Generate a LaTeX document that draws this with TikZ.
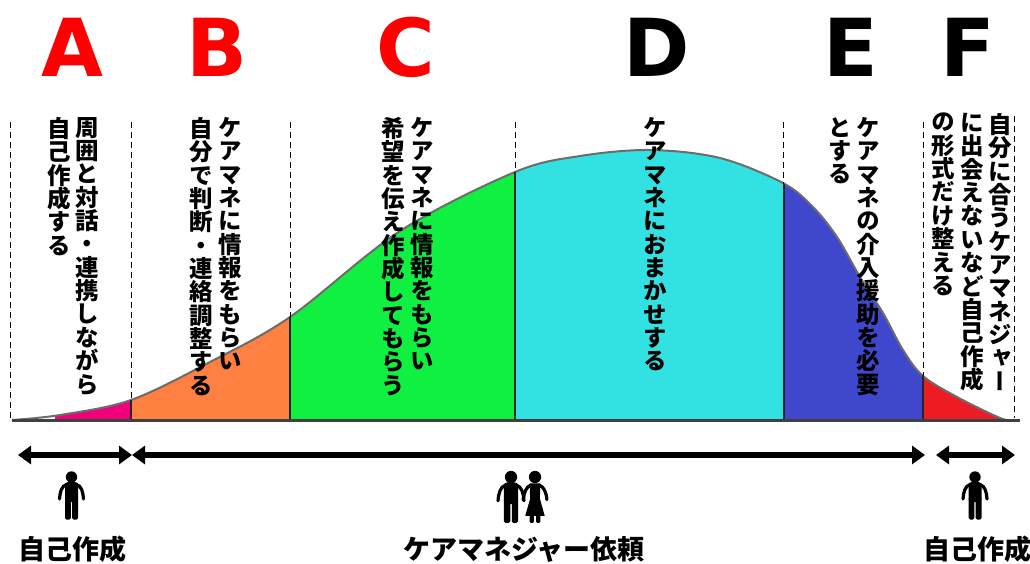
\documentclass[tikz,border=0pt]{standalone}
\usepackage{fontspec}
\setmainfont{Noto Sans CJK JP}
\newfontfamily\cjkv[RawFeature=+vert]{Noto Sans CJK JP}
\newfontfamily\latinbold{DejaVu Sans}
\usetikzlibrary{arrows.meta}
\definecolor{pinkA}{HTML}{F2007C}
\definecolor{orangeB}{HTML}{FF8040}
\definecolor{greenC}{HTML}{0FF040}
\definecolor{cyanD}{HTML}{32E2E2}
\definecolor{blueE}{HTML}{3F48CC}
\definecolor{redF}{HTML}{ED1C24}
\newcommand{\bellcurve}{plot[smooth,tension=0.55] coordinates {(12,420) (60,415) (131,400) (210,362) (290,317) (400,231) (515,172) (580,156) (650,150) (720,158) (783,183) (813,207) (837,237) (860,277) (883,313) (903,350) (923,376) (957,397) (1000,418) (1012,420)}}
\makeatletter
\newcommand{\vcol}[1]{\vbox{\baselineskip=23.35pt\lineskip=0pt\@tfor\vch:=#1\do{\hbox{\vch}}}}
\makeatother
\tikzset{
    letter/.style={inner sep=0, font=\latinbold\bfseries\fontsize{80}{80}\selectfont},
    vtext/.style={anchor=north, inner sep=0, font=\cjkv\bfseries\fontsize{23.5}{23.5}\selectfont},
    caption/.style={inner sep=0, font=\bfseries\fontsize{27}{27}\selectfont},
    divider/.style={line width=1pt, dash pattern=on 6pt off 4pt},
    span/.style={line width=6pt, {Triangle[length=13pt,width=18pt]}-{Triangle[length=13pt,width=18pt]}},
    man/.pic={
        \fill (0,0) circle (5.7);
        \fill[rounded corners=3] (-6.5,5) rectangle (6.5,25);
        \fill[rounded corners=1.5] (-6.5,20) rectangle (-0.7,42.5);
        \fill[rounded corners=1.5] (0.7,20) rectangle (6.5,42.5);
        \draw[line width=3.2pt, line cap=round] (-5,7.5) .. controls (-10,9) and (-11.5,15) .. (-12,22);
        \draw[line width=3.2pt, line cap=round] (5,7.5) .. controls (10,9) and (11.5,15) .. (12,22);
    },
    woman/.pic={
        \fill (0,0) circle (5.7);
        \fill (-5,6) -- (5,6) -- (4.5,20) -- (9,36) -- (-9,36) -- (-4.5,20) -- cycle;
        \fill[rounded corners=1.2] (-5,34) rectangle (-1,42.5);
        \fill[rounded corners=1.2] (1,34) rectangle (5,42.5);
        \draw[line width=3.2pt, line cap=round] (-4,7.5) .. controls (-8,9) and (-10,14) .. (-11,21);
        \draw[line width=3.2pt, line cap=round] (4,7.5) .. controls (8,9) and (10.5,14) .. (11,21);
    }
}
\begin{document}
\begin{tikzpicture}[x=1pt, y=-1pt]
    \useasboundingbox (0,0) rectangle (1030,563);
    % coloured parts under the curve
    \foreach \xa/\xb/\col in {55/131/pinkA, 131/290/orangeB, 290/515/greenC, 515/784/cyanD, 784/923/blueE, 923/1012/redF} {
        \begin{scope}
            \clip (\xa,100) rectangle (\xb,420);
            \fill[\col] \bellcurve -- cycle;
        \end{scope}
    }
    \draw[gray!85!black, line width=2pt] \bellcurve;
    % dashed and solid dividers
    \foreach \xa/\ya in {10/418, 131/400, 290/317, 515/172, 783/184, 923/375} {
        \draw[divider] (\xa,122) -- (\xa,\ya);
    }
    \draw[divider] (1014,116) -- (1014,418);
    \foreach \xa/\ya in {131/400, 290/317, 515/172, 784/184, 923/375} {
        \draw[line width=2pt, black!85] (\xa,\ya) -- (\xa,422);
    }
    \draw[line width=3.5pt, black!75] (12,420.5) -- (1020,420.5);
    % letters
    \node[letter, text=red] (letA) at (72.5,47) {A};
    \node[letter, text=red] (letB) at (217,47) {B};
    \node[letter, text=red] (letC) at (406,47) {C};
    \node[letter] (letD) at (657,47) {D};
    \node[letter] (letE) at (851,47) {E};
    \node[letter] (letF) at (968,47) {F};
    % vertical texts
    \node[vtext] (textA) at (87.5,117) {\vcol{周囲と対話・連携しながら}};
    \node[vtext] (textAb) at (59,117) {\vcol{自己作成する}};
    \node[vtext] (textB) at (230,117) {\vcol{ケアマネに情報をもらい}};
    \node[vtext] (textBb) at (201,117) {\vcol{自分で判断・連絡調整する}};
    \node[vtext] (textC) at (422.5,117) {\vcol{ケアマネに情報をもらい}};
    \node[vtext] (textCb) at (393.5,117) {\vcol{希望を伝え作成してもらう}};
    \node[vtext] (textD) at (655,117) {\vcol{ケアマネにおまかせする}};
    \node[vtext] (textE) at (868,117) {\vcol{ケアマネの介入援助を必要}};
    \node[vtext] (textEb) at (840,117) {\vcol{とする}};
    \node[vtext] (textF) at (1000.5,113) {\vcol{自分に合うケアマネジャー}};
    \node[vtext] (textFb) at (972,113) {\vcol{に出会えないなど自己作成}};
    \node[vtext] (textFc) at (943,113) {\vcol{の形式だけ整える}};
    % spans
    \coordinate (a1) at (18,455);
    \coordinate (a2) at (132,455);
    \coordinate (b1) at (132,455);
    \coordinate (b2) at (925,455);
    \coordinate (c1) at (936,455);
    \coordinate (c2) at (1015,455);
    \draw[span] (a1) -- (a2);
    \draw[span] (b1) -- (b2);
    \draw[span] (c1) -- (c2);
    % people
    \pic at (71.5,477) {man};
    \pic[scale=1.08] at (511,477) {man};
    \pic[scale=1.08] at (535,477) {woman};
    \pic at (975,477) {man};
    % captions
    \node[caption] (capA) at (72,549.5) {自己作成};
    \node[caption] (capB) at (524,549.5) {ケアマネジャー依頼};
    \node[caption] (capC) at (977,549.5) {自己作成};
\end{tikzpicture}
\end{document}
